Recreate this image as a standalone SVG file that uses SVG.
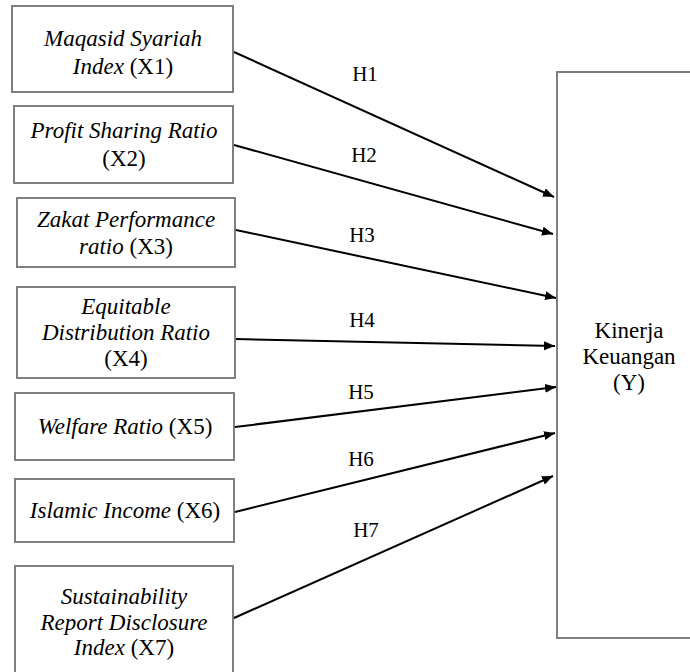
<svg xmlns="http://www.w3.org/2000/svg" width="690" height="672" viewBox="0 0 690 672">
<style>
.box{fill:#fff;stroke:#7f7f7f;stroke-width:2}
.t{font-family:'Liberation Serif','DejaVu Serif',serif;font-size:23px;fill:#000;text-anchor:middle}
.i{font-style:italic}
.h{font-family:'Liberation Serif','DejaVu Serif',serif;font-size:21px;fill:#000;text-anchor:middle}
.c{stroke:#000;stroke-width:2;fill:none;marker-end:url(#arr)}
</style>
<defs>
<marker id="arr" markerUnits="userSpaceOnUse" markerWidth="12" markerHeight="10" refX="11" refY="4.5" orient="auto">
<path d="M0,0 L11,4.5 L0,9 z" fill="#000"/>
</marker>
</defs>
<rect width="690" height="672" fill="#fff"/>
<g id="x1"><rect class="box" x="12" y="6" width="221" height="86"/>
<text class="t" x="123" y="46"><tspan class="i">Maqasid Syariah</tspan></text>
<text class="t" x="123" y="74"><tspan class="i">Index</tspan> (X1)</text></g>
<g id="x2"><rect class="box" x="14" y="106" width="219" height="77"/>
<text class="t" x="124" y="138"><tspan class="i">Profit Sharing Ratio</tspan></text>
<text class="t" x="124" y="166">(X2)</text></g>
<g id="x3"><rect class="box" x="17" y="198" width="218" height="69"/>
<text class="t" x="126" y="227"><tspan class="i">Zakat Performance</tspan></text>
<text class="t" x="126" y="254"><tspan class="i">ratio</tspan> (X3)</text></g>
<g id="x4"><rect class="box" x="17" y="287" width="218" height="91"/>
<text class="t" x="126" y="314"><tspan class="i">Equitable</tspan></text>
<text class="t" x="126" y="340"><tspan class="i">Distribution Ratio</tspan></text>
<text class="t" x="126" y="366">(X4)</text></g>
<g id="x5"><rect class="box" x="15" y="393" width="219" height="67"/>
<text class="t" x="125" y="434"><tspan class="i">Welfare Ratio</tspan> (X5)</text></g>
<g id="x6"><rect class="box" x="15" y="479" width="219" height="63"/>
<text class="t" x="125" y="518"><tspan class="i">Islamic Income</tspan> (X6)</text></g>
<g id="x7"><rect class="box" x="15" y="566" width="218" height="124"/>
<text class="t" x="124" y="604"><tspan class="i">Sustainability</tspan></text>
<text class="t" x="124" y="630"><tspan class="i">Report Disclosure</tspan></text>
<text class="t" x="124" y="655"><tspan class="i">Index</tspan> (X7)</text></g>
<g id="y"><rect class="box" x="557" y="72" width="145" height="566"/>
<text class="t" x="629" y="338">Kinerja</text>
<text class="t" x="629" y="364">Keuangan</text>
<text class="t" x="629" y="390">(Y)</text></g>
<g id="connectors">
<line class="c" x1="234" y1="52" x2="554" y2="197"/>
<line class="c" x1="234" y1="145" x2="553" y2="234"/>
<line class="c" x1="236" y1="230" x2="556" y2="298"/>
<line class="c" x1="236" y1="339" x2="555" y2="346"/>
<line class="c" x1="235" y1="427" x2="556" y2="387"/>
<line class="c" x1="235" y1="512" x2="555" y2="433"/>
<line class="c" x1="234" y1="618" x2="553" y2="476"/>
<text class="h" x="365" y="81">H1</text>
<text class="h" x="364" y="162">H2</text>
<text class="h" x="362" y="242">H3</text>
<text class="h" x="362" y="327">H4</text>
<text class="h" x="361" y="399">H5</text>
<text class="h" x="361" y="466">H6</text>
<text class="h" x="366" y="537">H7</text>
</g>
</svg>
